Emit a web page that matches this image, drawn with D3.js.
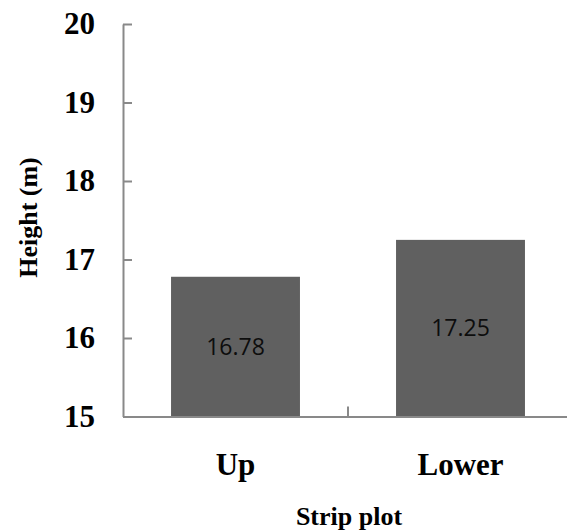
<!DOCTYPE html>
<html>
<head>
<meta charset="utf-8">
<script src="https://cdn.jsdelivr.net/npm/d3@7"></script>
<style>
  html, body { margin: 0; padding: 0; background: #fff; }
  svg { display: block; }
</style>
</head>
<body>
<svg id="chart" width="567" height="531"></svg>
<script>
// Mean tree height by strip plot position
const categories = ["Up", "Lower"];
const heights = [16.78, 17.25];
const yTicks = [15, 16, 17, 18, 19, 20];
const yTitle = "Height (m)";
const xTitle = "Strip plot";

const svg = d3.select("#chart");
const axisColor = "#898989";
const barColor = "#606060";
const serif = "'Liberation Serif', 'Times New Roman', serif";

const plot = { left: 123, right: 573, top: 24, bottom: 416.5 };

const x = d3.scaleBand()
  .domain(categories)
  .range([plot.left, plot.right])
  .paddingInner(0.427)
  .paddingOuter(0.2135);

const y = d3.scaleLinear()
  .domain([15, 20])
  .range([plot.bottom, plot.top]);

// Bars
svg.append("g")
  .selectAll("rect")
  .data(categories)
  .join("rect")
  .attr("x", d => x(d))
  .attr("width", x.bandwidth())
  .attr("y", (d, i) => y(heights[i]))
  .attr("height", (d, i) => y(15) - y(heights[i]))
  .attr("fill", barColor);

// Value labels centred in each bar
svg.append("g")
  .selectAll("text")
  .data(categories)
  .join("text")
  .attr("x", d => x(d) + x.bandwidth() / 2)
  .attr("y", (d, i) => (y(heights[i]) + y(15)) / 2)
  .attr("dy", "0.36em")
  .attr("text-anchor", "middle")
  .attr("font-family", "'Open Sans', sans-serif")
  .attr("font-size", 23)
  .attr("fill", "#0d0d0d")
  .text((d, i) => heights[i].toFixed(2));

// Y axis, ticks pointing into the plot
const yAxis = svg.append("g")
  .attr("transform", `translate(${plot.left},0)`)
  .call(d3.axisLeft(y)
    .tickValues(yTicks)
    .tickFormat(d3.format("d"))
    .tickSizeInner(-9)
    .tickSizeOuter(0)
    .tickPadding(28));
yAxis.select(".domain").attr("stroke", axisColor).attr("stroke-width", 2);
yAxis.selectAll(".tick line").attr("stroke", axisColor).attr("stroke-width", 2);
yAxis.selectAll(".tick text")
  .attr("font-family", serif)
  .attr("font-weight", "bold")
  .attr("font-size", 31)
  .attr("fill", "#000");

// X axis with category labels
const xAxis = svg.append("g")
  .attr("transform", `translate(0,${plot.bottom})`)
  .call(d3.axisBottom(x)
    .tickSizeInner(0)
    .tickSizeOuter(0)
    .tickPadding(36));
xAxis.select(".domain").attr("stroke", axisColor).attr("stroke-width", 2);
xAxis.selectAll(".tick text")
  .attr("font-family", serif)
  .attr("font-weight", "bold")
  .attr("font-size", 31)
  .attr("fill", "#000");

// Divider tick between the two categories
const boundaries = categories.slice(1).map(c => x(c) - x.step() * x.paddingInner() / 2);
svg.append("g")
  .selectAll("line")
  .data(boundaries)
  .join("line")
  .attr("x1", d => d).attr("x2", d => d)
  .attr("y1", plot.bottom).attr("y2", plot.bottom - 10)
  .attr("stroke", axisColor)
  .attr("stroke-width", 2);

// Axis titles
svg.append("text")
  .attr("transform", "translate(37,217.5) rotate(-90)")
  .attr("text-anchor", "middle")
  .attr("font-family", serif)
  .attr("font-weight", "bold")
  .attr("font-size", 26)
  .attr("fill", "#000")
  .text(yTitle);

svg.append("text")
  .attr("x", 349)
  .attr("y", 525)
  .attr("text-anchor", "middle")
  .attr("font-family", serif)
  .attr("font-weight", "bold")
  .attr("font-size", 26)
  .attr("fill", "#000")
  .text(xTitle);
</script>
</body>
</html>
